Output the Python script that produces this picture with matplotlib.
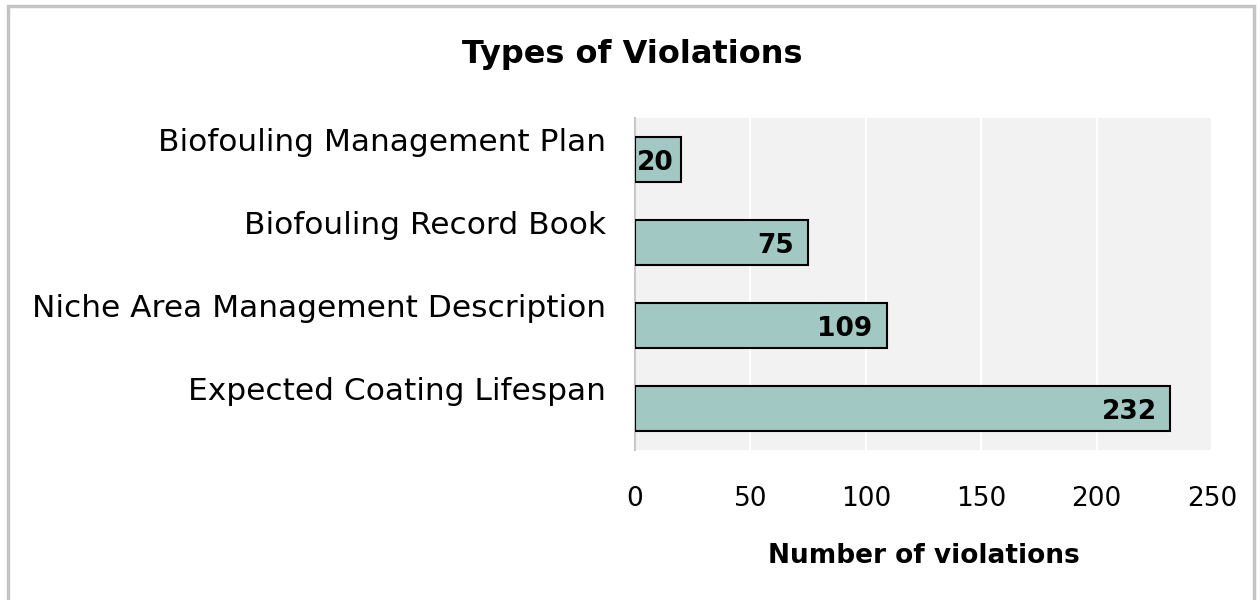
import matplotlib.pyplot as plt
import matplotlib.patches as patches
from matplotlib.transforms import ScaledTranslation

# chart data
categories = ['Biofouling Management Plan', 'Biofouling Record Book',
              'Niche Area Management Description', 'Expected Coating Lifespan']
counts = [20, 75, 109, 232]
x_ticks = [0, 50, 100, 150, 200, 250]

plt.rcParams['font.family'] = ['DejaVu Sans']

fig = plt.figure(figsize=(12.6, 6), dpi=100)
# light gray border round the chart
fig.patches.append(patches.Rectangle((8 / 1260, -0.05), 1246 / 1260, 0.94 + 0.1,
                                     transform=fig.transFigure, fill=False,
                                     edgecolor='#c4c4c4', linewidth=2.5))

ax = fig.add_axes([635 / 1260, 1 - 450 / 600, 577 / 1260, 332 / 600])
ax.set_facecolor('#f2f2f2')

y = range(len(categories))
bars = ax.barh(y, counts, height=0.55, color='#a2c8c4', edgecolor='black', linewidth=1.5, zorder=3)
ax.set_ylim(len(categories) - 0.5, -0.5)
ax.set_xlim(0, 250)

# value labels inside the bar end
for rect, v in zip(bars, counts):
    yc = rect.get_y() + rect.get_height() / 2 + 0.04
    if v < 30:
        ax.text(0.6, yc, str(v), ha='left', va='center', fontsize=19, fontweight='bold', zorder=4)
    else:
        ax.text(v - 6, yc, str(v), ha='right', va='center', fontsize=19, fontweight='bold', zorder=4)

ax.set_yticks(list(y))
ax.set_yticklabels(categories, fontsize=22.5)
ax.set_xticks(x_ticks)
ax.set_xticklabels([str(t) for t in x_ticks], fontsize=19)
ax.tick_params(axis='both', length=0)
ax.tick_params(axis='y', pad=21)
ax.tick_params(axis='x', pad=26)
ax.grid(axis='x', color='white', linewidth=1.5, zorder=0)

# category labels sit a bit above the bar centres in the original
shift = ScaledTranslation(0, 0.20, fig.dpi_scale_trans)
for lbl in ax.get_yticklabels():
    lbl.set_transform(lbl.get_transform() + shift)

for s in ['top', 'right', 'bottom']:
    ax.spines[s].set_visible(False)
ax.spines['left'].set_color('#c8c8c8')
ax.spines['left'].set_linewidth(1.5)

ax.set_xlabel('Number of violations', fontsize=19, fontweight='bold', labelpad=22)
fig.text(632 / 1260, 1 - 55 / 600, 'Types of Violations', ha='center', va='center',
         fontsize=23, fontweight='bold')

plt.savefig('out.png', dpi=100)
